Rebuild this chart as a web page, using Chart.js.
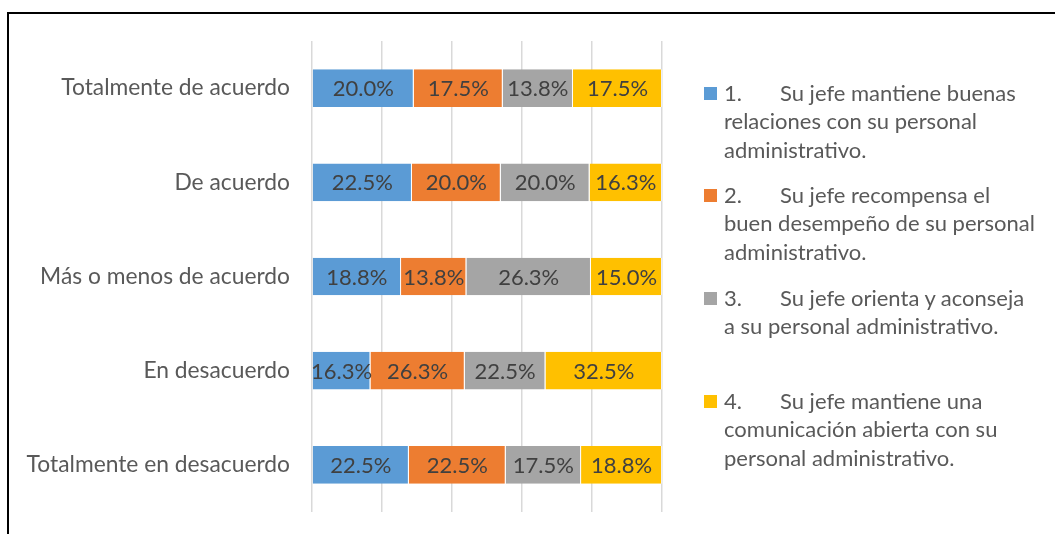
<!DOCTYPE html>
<html>
<head>
<meta charset="utf-8">
<script src="https://cdn.jsdelivr.net/npm/chart.js@4"></script>
<style>
  html, body { margin: 0; padding: 0; background: #fff; }
  body { width: 1055px; height: 534px; position: relative; overflow: hidden; font-family: Lato, sans-serif; }
  #wrap { position: absolute; left: 0; top: 0; width: 1055px; height: 534px; }
  #frame { position: absolute; left: 7px; top: 12px; width: 1200px; height: 700px;
           border-top: 2px solid #000; border-left: 2px solid #000; box-sizing: border-box; }
  #legend { position: absolute; left: 0; top: 0; width: 1055px; height: 534px; pointer-events: none; }
  .entry { position: absolute; left: 704px; color: #595959; font: 22px Lato, sans-serif; line-height: 28.5px; white-space: nowrap; }
  .box { position: absolute; left: 0; top: 8px; width: 13px; height: 13px; }
  .line { position: relative; padding-left: 20px; }
  .num { display: inline-block; width: 56px; }
</style>
</head>
<body>
<div id="frame"></div>
<div id="wrap"><canvas id="c" width="1055" height="534"></canvas></div>
<div id="legend"></div>
<script>
// ---- data ----
const categories = [
  "Totalmente de acuerdo",
  "De acuerdo",
  "Más o menos de acuerdo",
  "En desacuerdo",
  "Totalmente en desacuerdo"
];
const serie1 = [20.0, 22.5, 18.8, 16.3, 22.5];
const serie2 = [17.5, 20.0, 13.8, 26.3, 22.5];
const serie3 = [13.8, 20.0, 26.3, 22.5, 17.5];
const serie4 = [17.5, 16.3, 15.0, 32.5, 18.8];
const seriesNames = [
  "1. Su jefe mantiene buenas relaciones con su personal administrativo.",
  "2. Su jefe recompensa el buen desempeño de su personal administrativo.",
  "3. Su jefe orienta y aconseja a su personal administrativo.",
  "4. Su jefe mantiene una comunicación abierta con su personal administrativo."
];
const legendNumbers = ["1.", "2.", "3.", "4."];
const legendLines = [
  ["Su jefe mantiene buenas", "relaciones con su personal", "administrativo."],
  ["Su jefe recompensa el", "buen desempeño de su personal", "administrativo."],
  ["Su jefe orienta y aconseja", "a su personal administrativo."],
  ["Su jefe mantiene una", "comunicación abierta con su", "personal administrativo."]
];
const xTicks = [0, 20, 40, 60, 80, 100];

// ---- styles ----
const colors = ["#5B9BD5", "#ED7D31", "#A5A5A5", "#FFC000"];
const raw = [serie1, serie2, serie3, serie4];
const totals = categories.map((_, i) => raw.reduce((s, r) => s + r[i], 0));

const datasets = raw.map((vals, k) => ({
  label: seriesNames[k],
  rawValues: vals,
  data: vals.map((v, i) => v / totals[i] * 100),
  backgroundColor: colors[k],
  borderColor: "rgba(255,255,255,0.6)",
  borderWidth: { left: 0, right: 1, top: 0, bottom: 0 },
  borderSkipped: false,
  barPercentage: 0.4,
  categoryPercentage: 1.0
}));

const labelPlugin = {
  id: "segLabels",
  afterDatasetsDraw(chart) {
    const ctx = chart.ctx;
    ctx.save();
    ctx.font = "22px Lato, sans-serif";
    ctx.fillStyle = "#404040";
    ctx.textAlign = "center";
    ctx.textBaseline = "middle";
    chart.data.datasets.forEach((ds, di) => {
      const meta = chart.getDatasetMeta(di);
      meta.data.forEach((el, i) => {
        const cx = (el.x + el.base) / 2;
        ctx.fillText(ds.rawValues[i].toFixed(1) + "%", cx, el.y + 1);
      });
    });
    ctx.restore();
  }
};

new Chart(document.getElementById("c"), {
  type: "bar",
  data: { labels: categories, datasets },
  plugins: [labelPlugin],
  options: {
    indexAxis: "y",
    responsive: false,
    animation: false,
    layout: { padding: { left: 0, top: 41, right: 393, bottom: 0 } },
    plugins: { legend: { display: false }, tooltip: { enabled: false } },
    scales: {
      x: {
        stacked: true, min: 0, max: 100,
        afterBuildTicks(scale) { scale.ticks = xTicks.map(v => ({ value: v })); },
        afterFit(scale) { scale.height = 22; scale.paddingLeft = 0; scale.paddingRight = 0; },
        ticks: { display: false },
        grid: { color: "#D9D9D9", lineWidth: 1.5, drawTicks: false },
        border: { display: false }
      },
      y: {
        stacked: true,
        afterFit(scale) { scale.width = 312; scale.paddingTop = 0; scale.paddingBottom = 0; },
        ticks: { color: "#595959", font: { family: "Lato", size: 22.8 }, padding: 22 },
        grid: { display: false, drawTicks: false },
        border: { display: false }
      }
    }
  }
});

// ---- legend (HTML) ----
const legendCenters = [93, 195, 298, 401];
const lg = document.getElementById("legend");
datasets.forEach((ds, k) => {
  const e = document.createElement("div");
  e.className = "entry";
  e.style.top = (legendCenters[k] - 14.25) + "px";
  const b = document.createElement("div");
  b.className = "box";
  b.style.background = ds.backgroundColor;
  e.appendChild(b);
  legendLines[k].forEach((t, j) => {
    const l = document.createElement("div");
    l.className = "line";
    if (j === 0) {
      const n = document.createElement("span");
      n.className = "num";
      n.textContent = legendNumbers[k];
      l.appendChild(n);
      l.appendChild(document.createTextNode(t));
    } else {
      l.textContent = t;
    }
    e.appendChild(l);
  });
  lg.appendChild(e);
});
</script>
</body>
</html>
